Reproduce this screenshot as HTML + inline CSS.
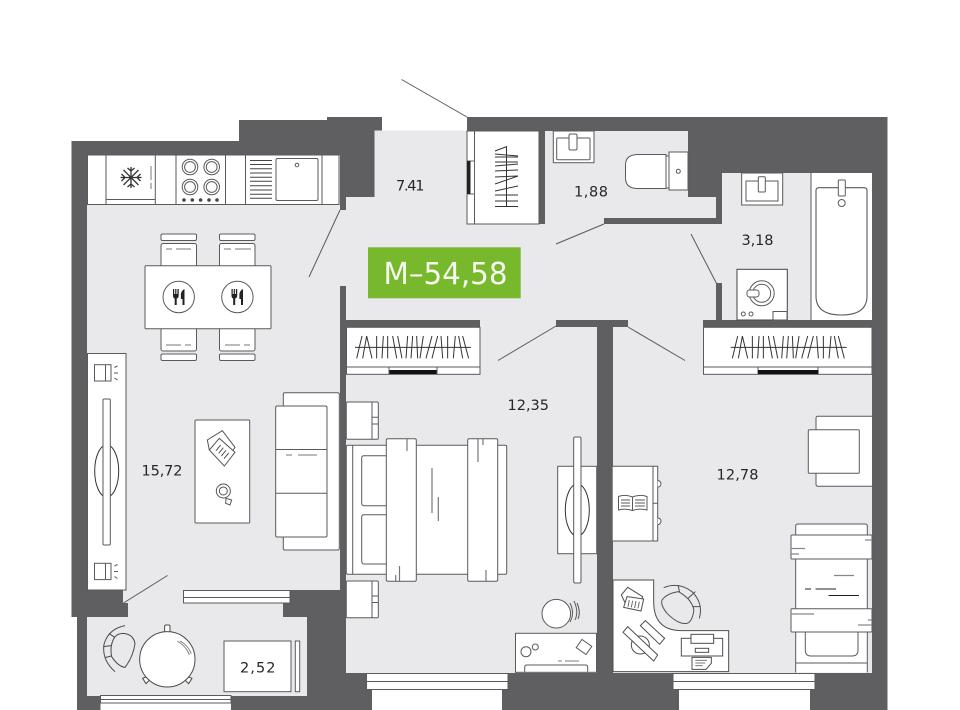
<!DOCTYPE html>
<html><head><meta charset="utf-8"><style>
html,body{margin:0;padding:0;background:#fff;width:960px;height:710px;overflow:hidden}
svg{display:block}
text{font-family:"DejaVu Sans",sans-serif;font-size:14.5px;fill:#26262a}
.f{fill:#fff;stroke:#5a5a5c;stroke-width:1}
.n{fill:none;stroke:#5a5a5c;stroke-width:1}
.d{fill:none;stroke:#333;stroke-width:1}
</style></head><body>
<svg width="960" height="710" viewBox="0 0 960 710" xmlns="http://www.w3.org/2000/svg">
<defs></defs>
<!-- walls -->
<path d="M71.5,141H239V120H327V117H382V131H467V117H887.5V710H77V617H71.5Z" fill="#5f5f61"/>
<!-- floors -->
<g fill="#e9e9ec">
<rect x="87" y="155" width="253" height="435"/>
<rect x="340" y="210" width="8" height="76"/>
<rect x="374.5" y="130.5" width="92.5" height="70"/>
<rect x="346" y="197" width="376" height="123"/>
<rect x="545" y="131" width="143" height="70"/>
<rect x="688" y="197" width="28" height="21"/>
<rect x="722" y="173" width="150" height="147"/>
<rect x="346" y="327" width="251" height="346"/>
<rect x="613" y="327" width="259" height="346"/>
<rect x="480" y="318" width="76" height="10"/>
<rect x="628" y="318" width="75" height="10"/>
<rect x="123" y="590" width="160" height="13"/>
<rect x="128" y="603" width="155" height="14"/>
<rect x="87" y="617" width="220" height="79"/>
</g>
<!-- interior walls over floor -->
<g fill="#5f5f61">
<rect x="340" y="286" width="6" height="304"/>
<rect x="346" y="320" width="134" height="7"/>
<rect x="556" y="320" width="72" height="7"/>
<rect x="597" y="320" width="16" height="353"/>
<rect x="604" y="218" width="118" height="6"/>
<rect x="716" y="197" width="6" height="27"/>
<rect x="716" y="283" width="6" height="37"/>
<rect x="703" y="320" width="169" height="7"/>
<rect x="539" y="131" width="6" height="93"/>
</g>
<!-- white outside -->
<rect x="100.5" y="696" width="130.5" height="14" fill="#fff"/>
<rect x="372" y="688" width="130" height="22" fill="#fff"/>
<rect x="679" y="688" width="131" height="22" fill="#fff"/>

<!-- door arcs -->
<g class="n" stroke="#444">
<path d="M401.5,79.5L467,117"/>
<path d="M556,244L604,224"/>
<path d="M498,360.5L556,326"/>
<path d="M628,327L685,360.5"/>
<path d="M691,234L716.5,283.5"/>
<path d="M309,277L340,210"/>
<path d="M123.5,603L167.5,575.5"/>
</g>

<!-- windows -->
<g class="f">
<rect x="183.5" y="590.5" width="106.5" height="12.5"/><path d="M183.5,597.5H290"/>
<rect x="100.5" y="695.5" width="130.5" height="7.5"/><path d="M100.5,699.5H231"/>
<rect x="366.5" y="673.5" width="141.5" height="16"/><path d="M366.5,681.5H508"/>
<rect x="673" y="673.5" width="142" height="16"/><path d="M673,681.5H815"/>
</g>

<!-- kitchen -->
<g class="f">
<rect x="87.5" y="155" width="251.5" height="49.5"/>
<path d="M106,155V204.5M155.3,155V204.5M176,155V204.5M225.5,155V204.5M245.5,155V204.5M322,155V204.5M106,199.5H155.3"/>
<path d="M250,160.5H272M250,164.5H272M250,168.7H272M250,173H272M250,177.3H272M250,181.3H272M250,185.7H272M250,190H272M250,194.3H272M250,198.3H272" stroke="#444"/>
<rect x="276" y="158.5" width="42" height="42" rx="1.5"/>
<circle cx="297" cy="165" r="1.8"/>
<circle cx="190" cy="167" r="7.8"/><circle cx="190" cy="167" r="5.4"/>
<circle cx="211.7" cy="167" r="7.8"/><circle cx="211.7" cy="167" r="5.4"/>
<circle cx="190" cy="187" r="7.8"/><circle cx="190" cy="187" r="5.4"/>
<circle cx="211.7" cy="187" r="7.8"/><circle cx="211.7" cy="187" r="5.4"/>
</g>
<g fill="#444"><circle cx="184" cy="200" r="1.8"/><circle cx="192.3" cy="200" r="1.8"/><circle cx="200.6" cy="200" r="1.8"/><circle cx="209" cy="200" r="1.8"/><circle cx="217" cy="200" r="1.8"/></g>
<g stroke="#333" stroke-width="1.3" fill="none">
<path d="M131,167V188M120.5,177.5H141.5M123.5,170L138.5,185M138.5,170L123.5,185M127.5,168L131,171L134.5,168M127.5,187L131,184L134.5,187M121.5,174L125,177.5L121.5,181M140.5,174L137,177.5L140.5,181"/>
</g>
<path d="M151,166V180M151,183V189" stroke="#777" fill="none"/>

<!-- dining -->
<g class="f" stroke-width="1.2">
<rect x="161" y="234" width="35.5" height="6.5" rx="1.5"/>
<rect x="219.5" y="234" width="35.5" height="6.5" rx="1.5"/>
<rect x="161" y="243.5" width="35.5" height="24" rx="2"/>
<rect x="219.5" y="243.5" width="35.5" height="24" rx="2"/>
<rect x="161" y="327" width="35.5" height="24" rx="2"/>
<rect x="219.5" y="327" width="35.5" height="24" rx="2"/>
<rect x="161" y="354" width="35.5" height="6.5" rx="1.5"/>
<rect x="219.5" y="354" width="35.5" height="6.5" rx="1.5"/>
<rect x="145" y="265.7" width="126" height="63" rx="1"/>
<circle cx="178.7" cy="297" r="15.7"/>
<circle cx="237.4" cy="297" r="15.7"/>
</g>
<path d="M166,249H172M176,249H191M224,249H231M235,249H251M166,345H181M185,345H191M225,345H240M244,345H250" stroke="#777" fill="none"/>
<g fill="#222">
<path d="M173,289h1.2v5h1v-5h1.2v5h1v-5h1.3v6.5q0,2.5-2,3v6.5h-2v-6.5q-1.7-.5-1.7-3z"/>
<path d="M184.5,289v16h-2v-6h-1.6v-5q.5-3.5,3.6-5z"/>
<path d="M231.5,289h1.2v5h1v-5h1.2v5h1v-5h1.3v6.5q0,2.5-2,3v6.5h-2v-6.5q-1.7-.5-1.7-3z"/>
<path d="M243,289v16h-2v-6h-1.6v-5q.5-3.5,3.6-5z"/>
</g>

<!-- TV left -->
<rect x="87.5" y="353.5" width="38.5" height="236.5" class="f"/>
<ellipse cx="106.7" cy="471" rx="12" ry="26" class="d"/>
<rect x="103" y="399" width="7.3" height="146" rx="1" class="f"/>
<g class="f">
<rect x="94.5" y="364.7" width="16.5" height="16.3"/><path d="M105.5,364.7V381"/>
<rect x="94.5" y="563.3" width="16.5" height="16.3"/><path d="M105.5,563.3V579.6"/>
</g>
<path d="M114.5,367.5L117.5,366M114,373H118M114.5,378L117.5,380M114.5,566L117.5,564.5M114,571.5H118M114.5,576.5L117.5,578.5" class="n"/>

<!-- coffee table -->
<rect x="195" y="420" width="54.7" height="103" rx="1" class="f"/>
<g transform="translate(190,420) scale(.3333)" fill="#fff" stroke="#555" stroke-width="3">
<path d="M52,60L97,32L135,82L120,105L58,90Z"/>
<path d="M58,90L88,55L135,97L103,138Z"/>
<path d="M78,92L92,75M86,100L100,83M94,108L108,91M102,116L116,99" fill="none"/>
<circle cx="100" cy="213" r="21"/><circle cx="100" cy="213" r="12"/>
<path d="M108,235L125,240L120,255L107,250Z"/>
</g>

<!-- sofa -->
<g class="f" stroke-width="1.2">
<rect x="283.3" y="392.7" width="56" height="157.3" rx="1.5"/>
<rect x="275.7" y="406" width="51.3" height="131" rx="1.5"/>
<path d="M275.7,449.5H327M275.7,493.3H327"/>
</g>
<path d="M286,455H292M298,455H317" stroke="#777" fill="none"/>

<!-- balcony furniture -->
<g transform="translate(90,615) scale(.3333)" fill="none" stroke="#4a4a4c" stroke-width="3">
<path d="M105,32Q55,42,42,88Q35,135,75,170"/>
<path d="M57,55L75,68M40,95L63,92M45,128L68,122"/>
<path d="M100,55Q130,58,135,85Q130,125,105,157Q85,155,65,125Q58,90,75,65Q85,55,100,55Z" fill="#e9e9ec"/>
<rect x="224" y="30" width="16" height="22" rx="4" fill="#fff"/>
<path d="M158,190L168,186L178,196L168,206Z" fill="#fff"/>
<path d="M306,190L296,186L286,196L296,206Z" fill="#fff"/>
<circle cx="232" cy="133" r="83" fill="#fff"/>
<path d="M262,78Q290,95,298,120M270,78Q295,92,304,116" stroke="#888"/>
</g>
<rect x="224" y="641" width="67" height="50.7" class="f"/>
<rect x="295.3" y="641" width="4.4" height="50.7" class="f"/>

<!-- hall closet -->
<rect x="467" y="131" width="72" height="93" class="f"/>
<path d="M474.5,131V224" class="n"/>
<rect x="467" y="161" width="7.5" height="33" fill="#fff" stroke="#666"/>
<rect x="467" y="161" width="3.5" height="33" fill="#222"/>
<g stroke="#333" fill="none">
<path d="M495,151L507,146.5M495,154L518,156M495,157H518M495,162H518M495,166L518,164M495,171L518,170M495,177L518,176M495,184L518,176M495,191L518,186M495,195H518M495,201H518M506.5,147V207M495,206.5H518"/>
</g>

<!-- WC -->
<g class="f">
<rect x="553.3" y="131" width="40.7" height="31.7"/>
<rect x="556.7" y="138" width="33.3" height="21.7" rx="1"/>
<rect x="569" y="134" width="8" height="16" rx="1.5"/>
<path d="M666,154.5H638Q625.5,154.5,625.5,165V178Q625.5,188.5,638,188.5H666Z"/>
<rect x="666" y="156" width="3.5" height="32"/>
<rect x="669" y="152" width="19" height="38"/>
<circle cx="678.3" cy="171.3" r="2"/>
</g>

<!-- bath -->
<g class="f">
<rect x="811" y="173" width="61" height="147" stroke="none"/>
<path d="M811,173V320"/>
<path d="M816,190.5Q816,187.7,819,187.7H864Q867,187.7,867,190.5V296Q867,315,841.5,315Q816,315,816,296Z" stroke-width="1.1"/>
<rect x="838.3" y="180" width="7" height="16" rx="1"/>
<circle cx="841.7" cy="203" r="3.5"/>
<rect x="741.7" y="173" width="41" height="32"/>
<rect x="746" y="181" width="32" height="20"/>
<rect x="758.3" y="176.7" width="7" height="15.3" rx="1"/>
<rect x="737" y="269.3" width="50.3" height="50.7" stroke="#444"/>
<circle cx="761.7" cy="293.3" r="12.5"/>
<circle cx="761.7" cy="293.3" r="9"/>
<rect x="747" y="290" width="12" height="7" rx="2.5"/>
<circle cx="743.3" cy="314" r="2"/><circle cx="751" cy="314" r="2"/>
<rect x="773" y="311.5" width="14" height="8.5"/>
</g>

<!-- closets -->
<g class="f">
<rect x="346.5" y="327.3" width="133.5" height="47"/>
<path d="M346.5,367H480"/>
<rect x="703.5" y="327.3" width="168.5" height="47"/>
<path d="M703.5,367H872"/>
</g>
<rect x="389" y="370" width="48" height="4" fill="#111"/>
<path d="M389,367V374M437,367V374M758,367V374M818,367V374" class="n"/>
<rect x="758" y="370" width="60.5" height="4" fill="#111"/>
<g transform="translate(346,325) scale(.3333)" stroke="#333" stroke-width="3" fill="none">
<path d="M27,67H375M48,33L32,100M62,33L50,100M62,33L78,100M92,33V100M112,33L108,100M125,33V100M140,33L152,100M155,33L168,100M185,33L180,100M200,33L195,100M212,33L215,100M232,33L222,100M258,33L240,100M275,33L258,100M285,33L290,100M305,33V100M328,33L322,100M338,33L350,100M350,33L368,100"/>
</g>
<g transform="translate(721.7,325) scale(.3333)" stroke="#333" stroke-width="3" fill="none">
<path d="M27,67H375M48,33L32,100M62,33L50,100M62,33L78,100M92,33V100M112,33L108,100M125,33V100M140,33L152,100M155,33L168,100M185,33L180,100M200,33L195,100M212,33L215,100M232,33L222,100M258,33L240,100M275,33L258,100M285,33L290,100M305,33V100M328,33L322,100M338,33L350,100M350,33L368,100"/>
</g>

<!-- left bedroom -->
<g class="f" stroke-width="1.1">
<rect x="346.3" y="402" width="32" height="37.3" rx="1"/>
<path d="M372,402V439.3M372,417.3H378.3M372,424H378.3"/>
<rect x="346.3" y="581" width="32" height="36.7" rx="1"/>
<path d="M372,581V617.7M372,596H378.3M372,602.5H378.3"/>
<rect x="346.3" y="445.3" width="160.4" height="129" rx="1.5"/>
<path d="M352.7,445.3V574.3"/>
<path d="M386,455.7H364Q361.7,455.7,361.7,458V503Q361.7,505.7,364,505.7H386"/>
<path d="M386,514.7H364Q361.7,514.7,361.7,517V561Q361.7,564,364,564H386"/>
<rect x="386.3" y="438.7" width="30" height="142.6" rx="1.5"/>
<rect x="467.7" y="438.7" width="30" height="142.6" rx="1.5"/>
</g>
<path d="M407,439V451M399.5,566V581M395.7,575V581M478,439V462M483,439V445M486,570V581M432,468V513M438.3,497V521" stroke="#777" stroke-width="1.2" fill="none"/>

<rect x="557.7" y="466.3" width="39" height="87.4" class="f"/>
<ellipse cx="577.3" cy="510" rx="12" ry="26" class="d"/>
<rect x="573.7" y="437" width="7.3" height="146" rx="1.5" class="f"/>

<circle cx="556.3" cy="613.7" r="14.3" class="f"/>
<path d="M570,603Q575,613,570,622M574,601Q579,612,575,620M577,603Q581,612,578,619" class="n"/>
<rect x="515.5" y="633.3" width="81" height="39" class="f"/>
<circle cx="526" cy="651.7" r="5" class="n"/><circle cx="535.3" cy="647" r="3" class="n"/>
<rect x="578" y="642" width="12" height="10" transform="rotate(35 584 647)" class="n" stroke="#444"/>
<path d="M558,661H562M565,661H579" stroke="#999" stroke-width="1.2" fill="none"/>
<path d="M524.7,672V667Q524.7,665,527,665H585.5Q587.7,665,587.7,667V672" class="n"/>

<!-- right bedroom: armchair -->
<g class="f" stroke-width="1.1">
<path d="M872,416.3H818Q816,416.3,816,418.5V484Q816,486.3,818,486.3H872"/>
<rect x="808.3" y="429.7" width="51" height="43.6" rx="1"/>
</g>
<!-- book desk -->
<g class="f">
<path d="M612.7,466.3H657.7V541H612.7"/>
<path d="M653,466.3V541M653,503.3H657.7"/>
<path d="M657.7,480.5a3.3,3.3 0 0 1 0,6.6M657.7,518a3.3,3.3 0 0 1 0,6.6"/>
<path d="M618.5,496.5Q625,494,632.5,497Q640,494,647,496.5V510Q640,508,632.5,510.5Q625,508,618.5,510Z"/>
<path d="M632.5,497V510.5M621,500H630M621,503H630M621,506H630M635,500H645M635,503H645M635,506H645"/>
</g>
<!-- corner desk -->
<g transform="translate(612,575) scale(.3333)" fill="none" stroke="#4f4f51" stroke-width="3">
<path d="M3,15H125V80Q125,165,205,167H350V290H3Z" fill="#fff"/>
<path d="M155,38Q200,20,240,50Q275,85,262,130"/>
<path d="M198,30L203,52M250,50L228,70M265,95L242,95"/>
<path d="M150,75Q165,55,200,50Q225,65,235,80Q248,100,245,110Q240,140,225,145Q200,150,165,115Q145,90,150,75Z" fill="#e9e9ec"/>
<path d="M28,60L47,37L92,65L85,85L40,85Z" fill="#fff"/>
<path d="M45,65L95,72L87,108L35,97Z" fill="#fff"/>
<path d="M52,75L48,95M62,77L58,97M72,78L68,99M82,80L78,100" stroke="#666"/>
<circle cx="85" cy="210" r="27"/>
<path d="M47,155L137,240L125,258L33,172Z" fill="#fff"/>
<path d="M100,137L158,190L143,208L85,152Z" fill="#fff"/>
<rect x="208" y="190" width="124" height="53" fill="#fff"/>
<rect x="237" y="178" width="68" height="27" fill="#fff"/>
<rect x="250" y="220" width="40" height="12"/>
<path d="M240,247H298V265L282,283H240Z" fill="#fff"/>
<path d="M250,256H285M250,264H280M250,272H272" stroke="#777"/>
</g>
<!-- single bed -->
<g class="f" stroke-width="1.1">
<path d="M795.7,672.5V526Q795.7,524,798,524H865Q867.3,524,867.3,526V672.5"/>
<path d="M795.7,663H867.3"/>
<path d="M805.3,632V650Q805.3,656,811,656H852Q858,656,858,650V632"/>
<rect x="791" y="535" width="81" height="24" rx="1"/>
<rect x="791" y="608.7" width="81" height="23.3" rx="1"/>
</g>
<path d="M791,548.5H805M791,554H799M865,540H872M791,614H814M858,625H872M868,620H872M834,575.5H854" stroke="#888" stroke-width="1.2" fill="none"/>
<path d="M805,589H811M815.5,589H836M828.5,595.5H859" stroke="#222" fill="none"/>

<!-- label box -->
<rect x="368" y="247.3" width="152.7" height="51" fill="#77b82d"/>
<text x="383.5" y="284" textLength="124" lengthAdjust="spacingAndGlyphs" style="font-size:30px;fill:#f6faef">M–54,58</text>
<!-- labels -->
<text x="396" y="190.5" textLength="28.5" lengthAdjust="spacing">7.41</text>
<text x="574" y="196.5" textLength="34" lengthAdjust="spacing">1,88</text>
<text x="741.5" y="245" textLength="32" lengthAdjust="spacing">3,18</text>
<text x="141.5" y="475.5" textLength="41" lengthAdjust="spacing">15,72</text>
<text x="507.5" y="410" textLength="41.5" lengthAdjust="spacing">12,35</text>
<text x="716.5" y="479.5" textLength="42" lengthAdjust="spacing">12,78</text>
<text x="240" y="672.5" textLength="35.5" lengthAdjust="spacing">2,52</text>
</svg>
</body></html>
